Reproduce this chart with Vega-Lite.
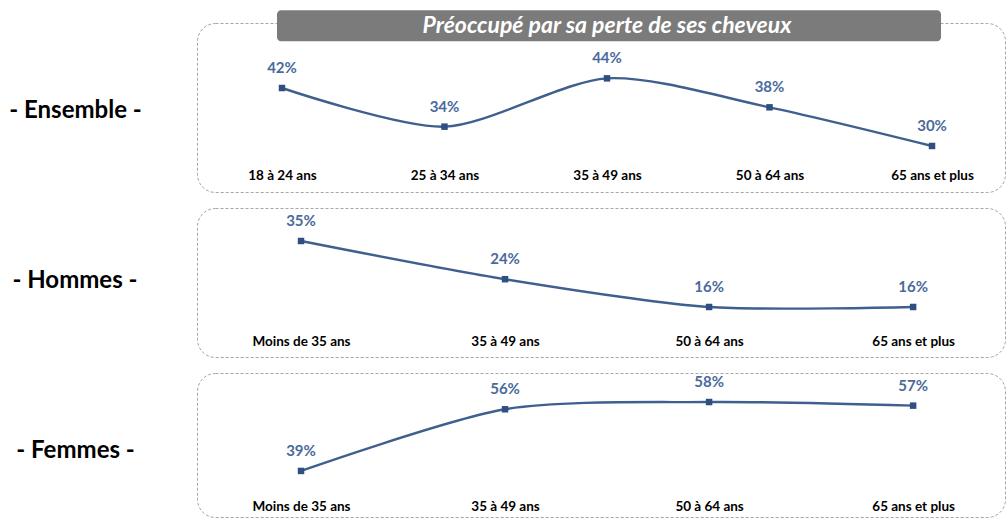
{
  "$schema": "https://vega.github.io/schema/vega-lite/v6.json",
  "padding": {"left": 8, "top": 9, "right": 0, "bottom": 0},
  "background": "white",
  "spacing": 14,
  "config": {
    "view": {"stroke": "#a6a6a6", "strokeDash": [3, 2], "strokeWidth": 1, "cornerRadius": 18},
    "title": {"orient": "left", "angle": 0, "align": "center", "baseline": "middle", "anchor": "middle", "font": "Lato", "fontSize": 24, "fontWeight": "bold", "color": "#000000"},
    "axisX": {"title": null, "domain": false, "ticks": false, "tickSize": 0, "grid": false, "labelAngle": 0, "labelPadding": 0, "labelFont": "Lato", "labelFontSize": 13.5, "labelFontWeight": "bold", "labelColor": "#000000", "labelBaseline": "top"}
  },
  "datasets": {
    "ensemble": [
      {"age": "18 à 24 ans", "pct": 0.42},
      {"age": "25 à 34 ans", "pct": 0.34},
      {"age": "35 à 49 ans", "pct": 0.44},
      {"age": "50 à 64 ans", "pct": 0.38},
      {"age": "65 ans et plus", "pct": 0.30}
    ],
    "hommes": [
      {"age": "Moins de 35 ans", "pct": 0.35},
      {"age": "35 à 49 ans", "pct": 0.24},
      {"age": "50 à 64 ans", "pct": 0.16},
      {"age": "65 ans et plus", "pct": 0.16}
    ],
    "femmes": [
      {"age": "Moins de 35 ans", "pct": 0.39},
      {"age": "35 à 49 ans", "pct": 0.56},
      {"age": "50 à 64 ans", "pct": 0.58},
      {"age": "65 ans et plus", "pct": 0.57}
    ],
    "titre": [{"texte": "Préoccupé par sa perte de ses cheveux"}]
  },
  "vconcat": [
    {
      "title": {"text": "- Ensemble -", "offset": -11, "dy": -9},
      "width": 808,
      "height": 169,
      "layer": [
        {
          "data": {"name": "titre"},
          "mark": {"type": "rect", "fill": "#7b7b7b", "cornerRadius": 4, "xOffset": -5, "x2Offset": 9},
          "encoding": {
            "x": {"datum": "18 à 24 ans", "type": "ordinal", "scale": {"type": "point", "domain": ["18 à 24 ans", "25 à 34 ans", "35 à 49 ans", "50 à 64 ans", "65 ans et plus"], "padding": 0.486, "align": 0.538}, "axis": {"offset": -24}},
            "x2": {"datum": "65 ans et plus"},
            "y": {"datum": 0.581, "type": "quantitative", "scale": {"domain": [0.2047, 0.5546], "nice": false, "zero": false}, "axis": null},
            "y2": {"datum": 0.517}
          }
        },
        {
          "data": {"name": "titre"},
          "mark": {"type": "text", "color": "white", "font": "Lato", "fontSize": 23, "fontWeight": "bold", "fontStyle": "italic", "baseline": "middle"},
          "encoding": {
            "x": {"datum": "35 à 49 ans", "type": "ordinal"},
            "y": {"datum": 0.549, "type": "quantitative"},
            "text": {"field": "texte"}
          }
        },
        {
          "data": {"name": "ensemble"},
          "mark": {"type": "line", "color": "#3f5f8f", "strokeWidth": 2.4, "interpolate": "cardinal", "tension": 0.2,
                   "point": {"shape": "square", "size": 42, "filled": true, "color": "#2f4f80"}},
          "encoding": {
            "x": {"field": "age", "type": "ordinal"},
            "y": {"field": "pct", "type": "quantitative"}
          }
        },
        {
          "data": {"name": "ensemble"},
          "mark": {"type": "text", "dy": -20, "color": "#4a6a9c", "font": "Lato", "fontSize": 15, "fontWeight": "bold", "baseline": "middle"},
          "encoding": {
            "x": {"field": "age", "type": "ordinal"},
            "y": {"field": "pct", "type": "quantitative"},
            "text": {"field": "pct", "type": "quantitative", "format": ".0%"}
          }
        }
      ]
    },
    {
      "title": {"text": "- Hommes -", "offset": -3, "dy": -14},
      "width": 808,
      "height": 149,
      "data": {"name": "hommes"},
      "encoding": {
        "x": {"field": "age", "type": "ordinal", "sort": null, "scale": {"type": "point", "padding": 0.48, "align": 0.531}, "axis": {"offset": -23}},
        "y": {"field": "pct", "type": "quantitative", "scale": {"domain": [0.016, 0.445], "nice": false, "zero": false}, "axis": null}
      },
      "layer": [
        {
          "mark": {"type": "line", "color": "#3f5f8f", "strokeWidth": 2.4, "interpolate": "cardinal", "tension": 0.2,
                   "point": {"shape": "square", "size": 42, "filled": true, "color": "#2f4f80"}}
        },
        {
          "mark": {"type": "text", "dy": -20, "color": "#4a6a9c", "font": "Lato", "fontSize": 15, "fontWeight": "bold", "baseline": "middle"},
          "encoding": {"text": {"field": "pct", "type": "quantitative", "format": ".0%"}}
        }
      ]
    },
    {
      "title": {"text": "- Femmes -", "offset": 3, "dy": -6},
      "width": 808,
      "height": 144,
      "data": {"name": "femmes"},
      "encoding": {
        "x": {"field": "age", "type": "ordinal", "sort": null, "scale": {"type": "point", "padding": 0.48, "align": 0.531}, "axis": {"offset": -18}},
        "y": {"field": "pct", "type": "quantitative", "scale": {"domain": [0.263, 0.66], "nice": false, "zero": false}, "axis": null}
      },
      "layer": [
        {
          "mark": {"type": "line", "color": "#3f5f8f", "strokeWidth": 2.4, "interpolate": "cardinal", "tension": 0.2,
                   "point": {"shape": "square", "size": 42, "filled": true, "color": "#2f4f80"}}
        },
        {
          "mark": {"type": "text", "dy": -20, "color": "#4a6a9c", "font": "Lato", "fontSize": 15, "fontWeight": "bold", "baseline": "middle"},
          "encoding": {"text": {"field": "pct", "type": "quantitative", "format": ".0%"}}
        }
      ]
    }
  ]
}
